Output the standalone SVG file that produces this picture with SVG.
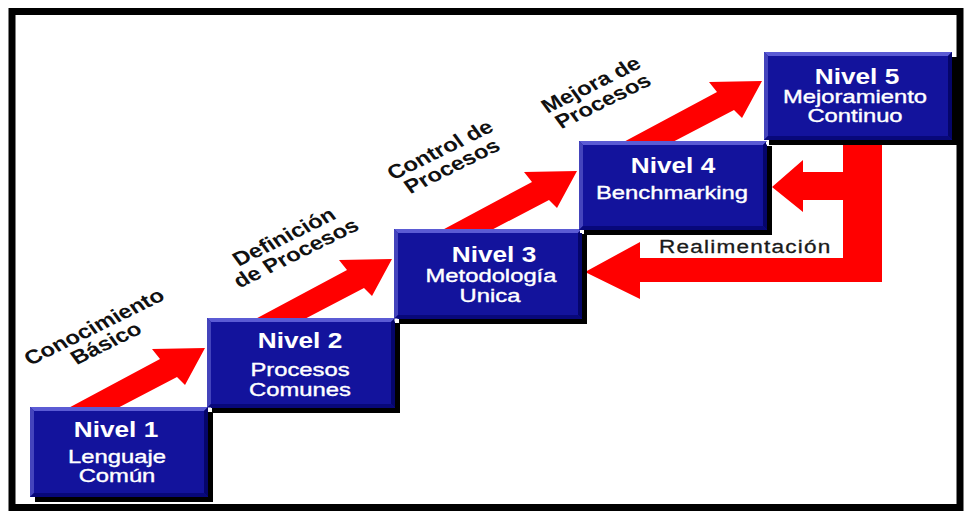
<svg xmlns="http://www.w3.org/2000/svg" width="965" height="513" viewBox="0 0 965 513">
  <style>
    .frame{fill:none;stroke:#000;stroke-width:7}
    .arrow{fill:#ff0000}
    .shadow{fill:#000}
    .body{fill:#13139c}
    .bt{fill:#5b5bd4}
    .bl{fill:#4444bc}
    .br{fill:#05056a}
    .bb{fill:#08087a}
    .dot{fill:#fff}
    .lvl{font-family:"Liberation Sans",Arial,sans-serif;font-weight:bold;font-size:21.5px;fill:#fff;text-anchor:middle}
    .sub{font-family:"Liberation Sans",Arial,sans-serif;font-size:17.5px;fill:#fff;stroke:#fff;stroke-width:0.35;text-anchor:middle}
    .step{font-family:"Liberation Sans",Arial,sans-serif;font-weight:bold;font-size:19.5px;fill:#111;text-anchor:middle}
    .fb{font-family:"Liberation Sans",Arial,sans-serif;font-size:18.5px;fill:#1a1a1a;stroke:#1a1a1a;stroke-width:0.3;letter-spacing:1px}
  </style>
  <defs>
    <!-- rising arrow, tip at the origin -->
    <polygon id="rise" points="-144,64 -45,11 -53,1 0,0 -20,37 -28,29 -95,64"/>
  </defs>

  <rect class="frame" x="12" y="11.5" width="948" height="496"/>

  <!-- connectors -->
  <g id="connectors">
    <use href="#rise" class="arrow" x="205" y="348"/>
    <use href="#rise" class="arrow" x="392" y="259"/>
    <use href="#rise" class="arrow" x="577" y="171"/>
    <use href="#rise" class="arrow" x="762" y="81"/>
    <!-- feedback loop from level 5 back to levels 4 and 3 -->
    <path class="arrow" d="M843,145 H882 V282 H640 V299 L585,272 L640,242 V258 H843 V200 H803 V212 L772,187 L803,160 V172 H843 Z"/>
    <text class="fb" transform="translate(659,253) scale(1.22,1)">Realimentación</text>
  </g>

  <!-- step labels -->
  <g id="labels">
    <text class="step" transform="translate(100,335) scale(1.22,1) rotate(-31)"><tspan x="0" y="-3">Conocimiento</tspan><tspan x="0" y="16">Básico</tspan></text>
    <text class="step" transform="translate(290,245) scale(1.22,1) rotate(-31)"><tspan x="0" y="-3">Definición</tspan><tspan x="0" y="16">de Procesos</tspan></text>
    <text class="step" transform="translate(446,158) scale(1.22,1) rotate(-31)"><tspan x="0" y="-3">Control de</tspan><tspan x="0" y="16">Procesos</tspan></text>
    <text class="step" transform="translate(597,93) scale(1.22,1) rotate(-31)"><tspan x="0" y="-3">Mejora de</tspan><tspan x="0" y="16">Procesos</tspan></text>
  </g>

  <g id="nivel1">
    <rect class="shadow" x="35" y="412" width="178" height="90"/>
    <rect class="body" x="30" y="407" width="178" height="90"/>
    <polygon class="bt" points="30,407 208,407 204,411 34,411"/>
    <polygon class="bl" points="30,407 34,411 34,493 30,497"/>
    <polygon class="br" points="208,407 208,497 204,493 204,411"/>
    <polygon class="bb" points="30,497 208,497 204,493 34,493"/>
    <text class="lvl" transform="translate(116,437) scale(1.22,1)">Nivel 1</text>
    <text class="sub" transform="translate(117,462.5) scale(1.36,1)">Lenguaje</text>
    <text class="sub" transform="translate(117,482) scale(1.36,1)">Común</text>
  </g>

  <g id="nivel2">
    <rect class="shadow" x="212" y="323" width="188" height="90"/>
    <rect class="body" x="207" y="318" width="188" height="90"/>
    <polygon class="bt" points="207,318 395,318 391,322 211,322"/>
    <polygon class="bl" points="207,318 211,322 211,404 207,408"/>
    <polygon class="br" points="395,318 395,408 391,404 391,322"/>
    <polygon class="bb" points="207,408 395,408 391,404 211,404"/>
    <text class="lvl" transform="translate(300,348) scale(1.22,1)">Nivel 2</text>
    <text class="sub" transform="translate(300,376) scale(1.36,1)">Procesos</text>
    <text class="sub" transform="translate(300,395.5) scale(1.36,1)">Comunes</text>
  </g>

  <g id="nivel3">
    <rect class="shadow" x="399" y="234" width="188" height="90"/>
    <rect class="body" x="394" y="229" width="188" height="90"/>
    <polygon class="bt" points="394,229 582,229 578,233 398,233"/>
    <polygon class="bl" points="394,229 398,233 398,315 394,319"/>
    <polygon class="br" points="582,229 582,319 578,315 578,233"/>
    <polygon class="bb" points="394,319 582,319 578,315 398,315"/>
    <text class="lvl" transform="translate(494,261.5) scale(1.22,1)">Nivel 3</text>
    <text class="sub" transform="translate(491,282) scale(1.36,1)">Metodología</text>
    <text class="sub" transform="translate(490,301.5) scale(1.36,1)">Unica</text>
  </g>

  <g id="nivel4">
    <rect class="shadow" x="584" y="146" width="188" height="89"/>
    <rect class="body" x="579" y="141" width="188" height="89"/>
    <polygon class="bt" points="579,141 767,141 763,145 583,145"/>
    <polygon class="bl" points="579,141 583,145 583,226 579,230"/>
    <polygon class="br" points="767,141 767,230 763,226 763,145"/>
    <polygon class="bb" points="579,230 767,230 763,226 583,226"/>
    <text class="lvl" transform="translate(673,172.5) scale(1.22,1)">Nivel 4</text>
    <text class="sub" transform="translate(672,199) scale(1.36,1)">Benchmarking</text>
  </g>

  <g id="nivel5">
    <rect class="shadow" x="769" y="57" width="188" height="88"/>
    <rect class="body" x="764" y="52" width="188" height="88"/>
    <polygon class="bt" points="764,52 952,52 948,56 768,56"/>
    <polygon class="bl" points="764,52 768,56 768,136 764,140"/>
    <polygon class="br" points="952,52 952,140 948,136 948,56"/>
    <polygon class="bb" points="764,140 952,140 948,136 768,136"/>
    <text class="lvl" transform="translate(857,83.5) scale(1.22,1)">Nivel 5</text>
    <text class="sub" transform="translate(855,102.5) scale(1.36,1)">Mejoramiento</text>
    <text class="sub" transform="translate(855,122) scale(1.36,1)">Continuo</text>
  </g>

  <!-- small light corners where the steps meet -->
  <g id="joints">
    <rect class="dot" x="208" y="407.5" width="3" height="3"/>
    <rect class="dot" x="394.5" y="318.5" width="3" height="3"/>
    <rect class="dot" x="580" y="230" width="3" height="3"/>
    <rect class="dot" x="766" y="141.5" width="3" height="3"/>
  </g>
</svg>
